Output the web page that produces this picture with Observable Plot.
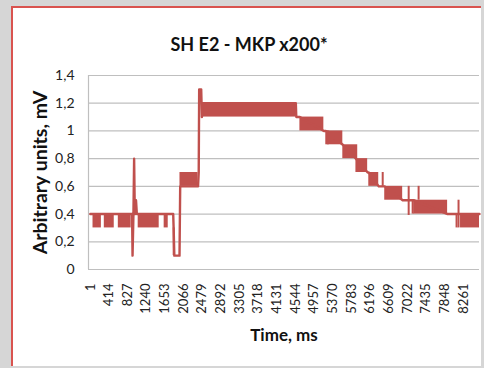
<!DOCTYPE html>
<html>
<head>
<meta charset="utf-8">
<script src="https://cdn.jsdelivr.net/npm/d3@7"></script>
<script src="https://cdn.jsdelivr.net/npm/@observablehq/plot@0.6"></script>
<style>
  html, body { margin: 0; padding: 0; }
  body { width: 484px; height: 368px; background: #d6d6d6; position: relative; overflow: hidden; font-family: Lato, "Open Sans", sans-serif; }
  #frame { position: absolute; left: 11px; top: 6px; width: 470px; height: 360px; background: #ffffff; border-left: 2px solid #d9534f; border-top: 2px solid #d9534f; box-sizing: border-box; }
  #chart { position: absolute; left: 0; top: 0; }
</style>
</head>
<body>
<div id="frame"></div>
<div id="chart"></div>
<script>
// Tick labels of the category axis (ms)
const xTicks = [1, 414, 827, 1240, 1653, 2066, 2479, 2892, 3305, 3718, 4131, 4544, 4957, 5370, 5783, 6196, 6609, 7022, 7435, 7848, 8261];
const yTicks = [0, 0.2, 0.4, 0.6, 0.8, 1, 1.2, 1.4];

// Main trace (time ms, value mV)
const traceT = [1, 925, 935, 955, 970, 985, 1000, 1012, 1030, 1835, 1845, 1860, 1975, 1990, 2385, 2400, 2410, 2455, 2470, 2497, 4550, 4560, 4640, 5170, 5213, 5590, 5880, 6140, 6165, 6385, 6518, 6915, 7160, 7910, 8196, 8616];
const traceV = [0.4, 0.4, 0.1, 0.4, 0.8, 0.4, 0.4, 0.5, 0.4, 0.4, 0.3, 0.1, 0.1, 0.6, 0.6, 0.7, 1.3, 1.3, 1.1, 1.2, 1.2, 1.1, 1.1, 1.0, 1.0, 0.9, 0.8, 0.7, 0.7, 0.6, 0.6, 0.5, 0.5, 0.4, 0.4, 0.4];

// Bands of rapid oscillation between two levels
const bandStart = [60, 310, 620, 1060, 1635, 1835, 1985, 2497, 4640, 5213, 5590, 5880, 6165, 6518, 7160, 8196];
const bandEnd   = [245, 530, 905, 1525, 1725, 1880, 2385, 4550, 5170, 5590, 5920, 6140, 6385, 6915, 7910, 8616];
const bandLow   = [0.3, 0.3, 0.3, 0.3, 0.3, 0.1, 0.6, 1.1, 1.0, 0.9, 0.8, 0.7, 0.6, 0.5, 0.4, 0.3];
const bandHigh  = [0.4, 0.4, 0.4, 0.4, 0.4, 0.3, 0.7, 1.2, 1.1, 1.0, 0.9, 0.8, 0.7, 0.6, 0.5, 0.4];

// Isolated spikes
const spikeT  = [5258, 6473, 7048, 7136, 7268, 8108, 8152];
const spikeV1 = [1.0, 0.7, 0.6, 0.5, 0.6, 0.4, 0.5];
const spikeV2 = [0.9, 0.6, 0.39, 0.4, 0.5, 0.3, 0.3];

const trace = traceT.map((t, i) => ({t, v: traceV[i]}));
const bands = bandStart.map((s, i) => ({x1: s, x2: bandEnd[i], y1: bandLow[i], y2: bandHigh[i]}));
const spikes = spikeT.map((t, i) => ({t, y1: spikeV1[i], y2: spikeV2[i]}));

const red = "#c0504d";
const fmt = d => String(d).replace(".", ",");

const chart = Plot.plot({
  width: 484,
  height: 368,
  marginLeft: 88,
  marginRight: 5,
  marginTop: 75,
  marginBottom: 99,
  style: { background: "transparent", fontFamily: "Lato, 'Open Sans', sans-serif" },
  x: { domain: [-40, 8616] },
  y: { domain: [0, 1.4] },
  marks: [
    Plot.gridY(yTicks, { stroke: "#bfbfbf", strokeOpacity: 1, strokeWidth: 1.2 }),
    Plot.ruleX([-40], { stroke: "#bfbfbf", strokeWidth: 1.2 }),
    Plot.axisY(yTicks, { tickSize: 0, tickPadding: 14, tickFormat: fmt, fontSize: 14, fill: "#222", label: null }),
    Plot.axisX(xTicks, { tickSize: 0, tickPadding: 14, tickRotate: -90, tickFormat: d => String(d), fontSize: 13, fill: "#222", label: null, textAnchor: "end" }),
    Plot.rect(bands, { x1: "x1", x2: "x2", y1: "y1", y2: "y2", fill: red }),
    Plot.line(trace, { x: "t", y: "v", stroke: red, strokeWidth: 2.4, curve: "linear" }),
    Plot.ruleX(spikes, { x: "t", y1: "y1", y2: "y2", stroke: red, strokeWidth: 2 }),
    Plot.text(["SH E2 - MKP x200*"], { frameAnchor: "top", dx: -35, dy: -37, fontSize: 18, fontWeight: "bold", fill: "#111" }),
    Plot.text(["Arbitrary units, mV"], { frameAnchor: "left", textAnchor: "middle", dx: -48, rotate: -90, fontSize: 19.5, fontWeight: "bold", fill: "#111" }),
    Plot.text(["Time, ms"], { frameAnchor: "bottom", dy: 71, fontSize: 17, fontWeight: "bold", fill: "#111" })
  ]
});
document.getElementById("chart").appendChild(chart);
</script>
</body>
</html>
